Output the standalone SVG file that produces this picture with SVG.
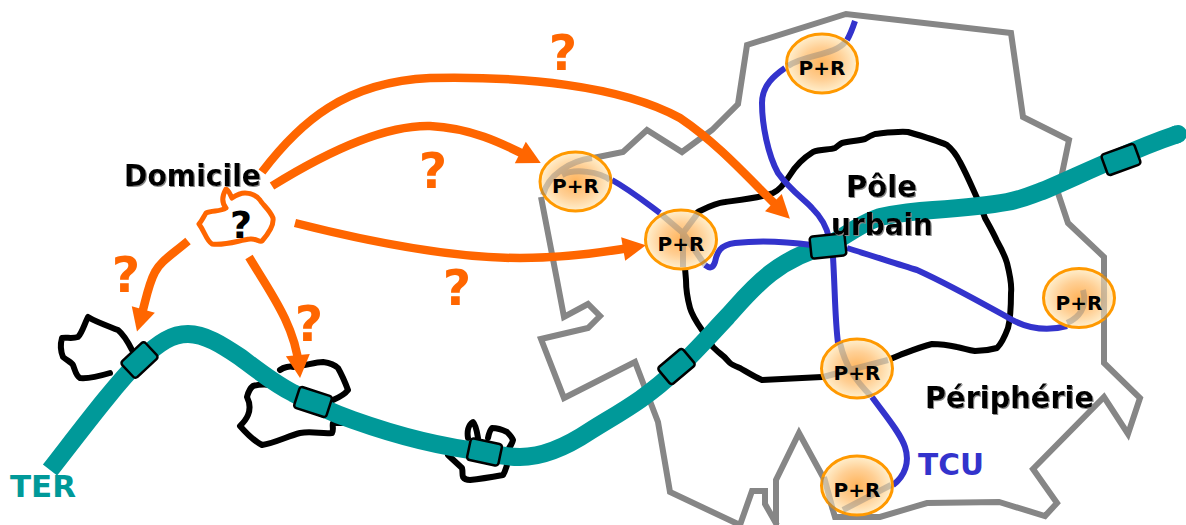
<svg xmlns="http://www.w3.org/2000/svg" width="1186" height="525" viewBox="0 0 1186 525">
<defs>
<marker id="ah" markerUnits="userSpaceOnUse" markerWidth="26" markerHeight="26" refX="13" refY="13" orient="auto"><path d="M1 1L24 13L1 25Z" fill="#f60"/></marker>
<radialGradient id="pr"><stop offset="0" stop-color="#ffb45c"/><stop offset="0.55" stop-color="#ffcf94"/><stop offset="1" stop-color="#fff0cf"/></radialGradient>
<filter id="sh" x="-5%" y="-10%" width="110%" height="125%"><feDropShadow dx="1" dy="1" stdDeviation="0.7" flood-color="#888"/></filter>
</defs>
<style>
.t{font-family:"DejaVu Sans",Verdana,sans-serif;font-weight:bold}
.l{fill:none;stroke-linejoin:round;stroke-linecap:round}
.g{stroke:#868686;stroke-width:6;stroke-linejoin:miter;stroke-linecap:butt}
.k{stroke:#000;stroke-width:6}
.b{stroke:#3333cc;stroke-width:6;stroke-linecap:butt}
.o{stroke:#f60;stroke-width:8.5;stroke-linecap:butt;marker-end:url(#ah)}
.st{fill:#009999;stroke:#000;stroke-width:2.5}
.pe{fill:url(#pr);stroke:#ff9900;stroke-width:3}
.q{fill:#f60;font-size:49px;text-anchor:middle}
.p{font-size:20px;fill:#000;text-anchor:middle}
.ov{fill:none;stroke:#777;stroke-width:6;opacity:.38}
.s{filter:url(#sh)}
</style>
<g id="connectors">
<path class="l g" d="M541 197L557 280L564 317L588 304L600 316L588 328L541 339L564 398L635 362L658 422L670 492L740 525L752 491L765 491L765 504L777 525M776 525L776 480L799 433L823 477L835 517L880 517L927 503L999 502L1045 516L1057 503L1033 469L1104 397L1128 434L1140 398L1104 363L1104 257L1068 223L1058 193L1069 140L1023 117L1011 33L846 14L747 45L738 104L712 130L682 152L647 130L623 152L593 158"/>
<path class="l k" d="M698 212C708 207 715 203 725 202C740 200 760 198 773 193C780 190 785 183 790 175C796 165 805 157 813 152C820 149 830 150 835 148C838 146 840 144 842 143C850 141 858 141 865 139C868 137 872 135 875 134C885 133 898 131 908 132C922 136 936 140 947 145C953 150 957 156 960 162C967 175 972 187 977 198C980 207 983 212 985 218C990 227 994 234 997 241C1002 250 1005 256 1007 263C1010 275 1012 285 1011 293C1011 310 1010 320 1008 328C1005 336 1002 343 997 348C990 350 982 351 975 351C968 350 963 348 957 347C948 345 940 344 932 344C920 347 908 352 900 355L888 360M822 377L762 380C755 377 747 372 740 368C735 366 732 365 730 363C727 360 725 357 722 355C718 352 716 350 713 347C708 340 705 335 702 330C695 320 692 315 690 308C687 297 686 288 686 280L685 268"/>
<path class="l k" d="M132 350C127 340 124 335 118 330C108 326 96 322 88 317C84 325 82 333 78 337C72 339 66 337 62 338C60 345 61 352 63 357C68 361 72 363 73 365C75 370 76 376 80 378C90 379 100 376 110 373"/>
<path class="l k" d="M280 370C284 367 290 366 293 367C305 366 315 362 323 362C330 363 335 365 338 368C342 375 345 382 348 390C345 394 340 397 333 400M270 385C263 384 257 385 253 386C249 389 248 393 247 397C250 403 250 410 248 415C246 420 243 423 240 426C247 434 254 441 262 445C275 443 288 436 300 433C312 431 322 434 332 433C334 430 332 426 333 423L342 423"/>
<path class="l k" d="M448 455L462 468C463 472 462 475 463 477C465 480 468 480 470 480C480 479 492 477 503 475C505 472 506 468 507 465M468 438C467 432 468 425 473 422C476 425 477 432 478 438M488 438C489 433 490 430 492 428C498 428 503 430 507 432C510 435 512 437 513 440C512 444 510 447 508 450"/>
<path class="l" stroke="#009999" stroke-width="18" stroke-linecap="butt" style="stroke-linecap:butt" d="M50 470C85 425 115 385 140 360C160 342 172 334 188 334C205 334 222 345 240 357C260 372 275 384 293 393C315 405 335 414 353 420C395 435 440 447 485 452C500 456 510 457 520 457C542 457 566 447 590 431C615 415 645 400 676 370C695 352 710 335 727 317C748 294 775 258 828 246C850 232 865 222 880 217C900 213 915 211 933 210C960 208 985 206 1007 202C1035 197 1070 178 1113 160C1135 150 1160 140 1178 134"/>
<path class="l" stroke="#009999" stroke-width="18" d="M1175 135L1178 134"/>
<path class="l b" d="M855 21C852 30 850 35 847 40M785 68C775 75 762 85 762 103C762 125 768 155 778 173C790 190 805 200 812 208C822 218 827 228 829 238L833 257C835 290 835 320 838 343M872 397C885 415 900 432 905 447C910 462 905 476 893 485"/>
<path class="l b" d="M612 180C630 190 645 202 660 213M705 265C710 269 713 268 715 262C717 252 720 245 735 243C760 240 790 242 812 245M847 248C870 255 900 265 917 270C950 285 980 302 1007 317C1025 328 1045 332 1067 326"/>
<path class="l o" d="M262 172C300 122 345 82 430 78C520 76 620 85 680 118C720 145 750 180 782 211"/>
<path class="l o" d="M272 186C330 150 385 125 430 126C470 128 500 142 531 158"/>
<path class="l o" d="M295 223C370 242 450 258 520 258C565 258 600 253 635 247"/>
<path class="l o" d="M188 241C170 256 160 262 155 272C148 285 146 300 140 321"/>
<path class="l o" d="M249 257C270 292 295 325 299 367"/>
<path class="l" stroke="#f60" stroke-width="5" d="M226 189C222 196 221 202 226 208C220 212 212 210 206 213C203 218 201 222 199 224C205 232 206 240 212 244C225 246 240 240 250 239C256 238 260 243 262 241C270 232 274 225 273 218C270 210 262 204 260 200C255 194 250 193 245 193C240 193 235 196 232 198C230 195 229 190 226 189Z"/>
</g>
<g id="station1"><rect class="st" x="-16" y="-11" width="32" height="22" rx="3" transform="translate(139.500 360) rotate(-43)"/></g>
<g id="station2"><rect class="st" x="-17" y="-11" width="34" height="22" rx="3" transform="translate(313 402) rotate(18)"/></g>
<g id="station3"><rect class="st" x="-16" y="-11" width="32" height="22" rx="3" transform="translate(484.500 452) rotate(12)"/></g>
<g id="station4"><rect class="st" x="-16" y="-11" width="32" height="22" rx="3" transform="translate(676.500 366.500) rotate(-40)"/></g>
<g id="station5"><rect class="st" x="-17.500" y="-11" width="35" height="22" rx="3" transform="translate(828 246) rotate(-6)"/></g>
<g id="station6"><rect class="st" x="-17.500" y="-11" width="35" height="22" rx="3" transform="translate(1121 159.500) rotate(-20)"/></g>
<g id="pr1"><ellipse class="pe" cx="822" cy="63.500" rx="35.500" ry="29.500"/><path class="ov" d="M788 66C805 54 835 56 846 41"/><text class="t p" x="822" y="75">P+R</text></g>
<g id="pr2"><ellipse class="pe" cx="575.500" cy="181.500" rx="35.500" ry="29.500"/><path class="ov" d="M543 195C548 175 570 161 592 158M610 180C600 172 575 168 562 175"/><text class="t p" x="575.500" y="193">P+R</text></g>
<g id="pr3"><ellipse class="pe" cx="681" cy="239.500" rx="35.500" ry="29.500"/><path class="ov" d="M662 215L683 233L705 265M698 213L683 233L683 267"/><text class="t p" x="681" y="251">P+R</text></g>
<g id="pr4"><ellipse class="pe" cx="1079" cy="298" rx="35.500" ry="29.500"/><path class="ov" d="M1104 275V319M1067 323C1078 318 1088 308 1083 290"/><text class="t p" x="1079" y="309.500">P+R</text></g>
<g id="pr5"><ellipse class="pe" cx="857" cy="368.500" rx="35.500" ry="29.500"/><path class="ov" d="M840 343C845 365 855 380 871 396M823 377L888 360"/><text class="t p" x="857" y="380">P+R</text></g>
<g id="pr6"><ellipse class="pe" cx="857" cy="485.500" rx="35.500" ry="29.500"/><path class="ov" d="M824 477L833 510M843 510L891 485"/><text class="t p" x="857" y="497">P+R</text></g>
<g id="labels">
<text class="t s" x="124" y="186" font-size="30" textLength="137" lengthAdjust="spacingAndGlyphs">Domicile</text>
<text class="t" x="241" y="238" font-size="38" text-anchor="middle">?</text>
<text class="t q" x="563" y="70">?</text>
<text class="t q" x="433" y="188">?</text>
<text class="t q" x="457" y="305">?</text>
<text class="t q" x="126" y="292">?</text>
<text class="t q" x="309" y="341">?</text>
<text class="t s" x="846" y="197" font-size="30" textLength="71" lengthAdjust="spacingAndGlyphs">Pôle</text>
<text class="t s" x="831" y="235" font-size="30" textLength="102" lengthAdjust="spacingAndGlyphs">urbain</text>
<text class="t s" x="925" y="408" font-size="30" textLength="169" lengthAdjust="spacingAndGlyphs">Périphérie</text>
<text class="t" x="918" y="475" font-size="31" fill="#3333cc" textLength="66" lengthAdjust="spacingAndGlyphs">TCU</text>
<text class="t" x="10" y="497" font-size="30" fill="#009999" textLength="66" lengthAdjust="spacingAndGlyphs">TER</text>
</g>
</svg>
